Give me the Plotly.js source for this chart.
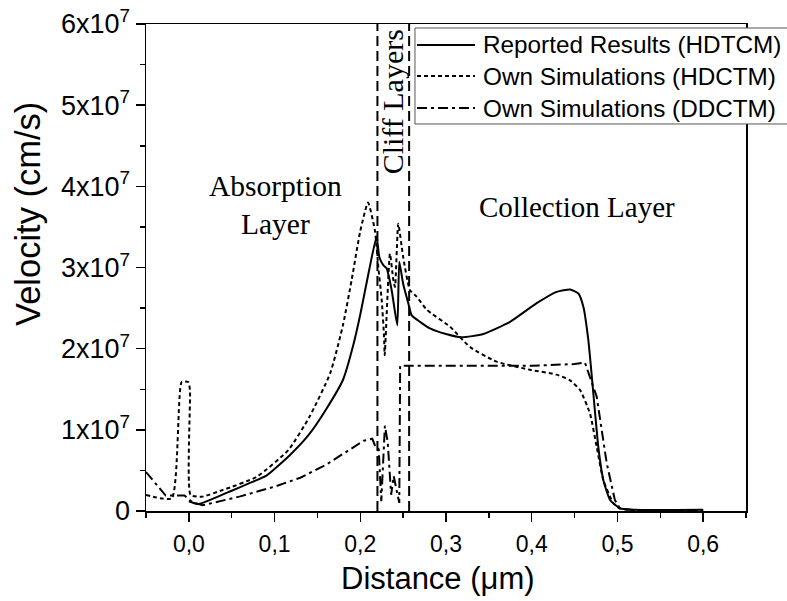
<!DOCTYPE html>
<html>
<head>
<meta charset="utf-8">
<script src="https://cdn.plot.ly/plotly-3.0.1.min.js"></script>
<style>html,body{margin:0;padding:0;background:#fff;}#chart{width:787px;height:601px;}</style>
</head>
<body>
<div id="chart"></div>
<script>
// Reported Results (HDTCM) - solid
var reportedX = [0.0, 0.011, 0.03, 0.05, 0.07, 0.091, 0.118, 0.14, 0.16, 0.18, 0.192, 0.2, 0.21, 0.219, 0.2222, 0.2268, 0.2307, 0.2366, 0.2432, 0.2455, 0.250, 0.256, 0.26, 0.2697, 0.2813, 0.30, 0.318, 0.3435, 0.3747, 0.4058, 0.4291, 0.4447, 0.4544, 0.4602, 0.466, 0.4719, 0.4777, 0.4836, 0.4914, 0.503, 0.52, 0.6];
var reportedY = [1.2e6, 0.85e6, 1.6e6, 2.5e6, 3.4e6, 4.4e6, 6.9e6, 9.4e6, 1.25e7, 1.62e7, 2.05e7, 2.42e7, 2.95e7, 3.38e7, 3.13e7, 3.03e7, 2.99e7, 2.72e7, 2.29e7, 3.07e7, 2.80e7, 2.56e7, 2.41e7, 2.33e7, 2.25e7, 2.18e7, 2.14e7, 2.18e7, 2.33e7, 2.56e7, 2.70e7, 2.73e7, 2.68e7, 2.52e7, 2.11e7, 1.45e7, 7.9e6, 3.8e6, 1.36e6, 3.3e5, 1.5e5, 1.5e5];

// Own Simulations (HDCTM) - dotted
var hdctmX = [-0.05, -0.02, -0.0084, -0.0007, 0.0013, 0.002, 0.015, 0.04, 0.079, 0.116, 0.1407, 0.165, 0.18, 0.19, 0.2, 0.209, 0.217, 0.221, 0.225, 0.2277, 0.2285, 0.2346, 0.2385, 0.2405, 0.2443, 0.250, 0.258, 0.2658, 0.2775, 0.3047, 0.328, 0.359, 0.398, 0.429, 0.4447, 0.4564, 0.468, 0.4758, 0.4836, 0.4953, 0.503, 0.52, 0.6];
var hdctmY = [1.97e6, 1.56e6, 1.59e7, 1.59e7, 1.49e7, 1.97e6, 1.76e6, 2.6e6, 4.2e6, 7.5e6, 1.16e7, 1.7e7, 2.3e7, 2.85e7, 3.45e7, 3.8e7, 3.46e7, 3.01e7, 2.6e7, 2.15e7, 1.92e7, 3.17e7, 2.85e7, 2.76e7, 3.54e7, 3.13e7, 2.72e7, 2.64e7, 2.48e7, 2.27e7, 2.02e7, 1.84e7, 1.74e7, 1.68e7, 1.61e7, 1.49e7, 1.20e7, 7.9e6, 3.8e6, 9.5e5, 3e5, 1e5, 1e5];

// Own Simulations (DDCTM) - dash-dot
var ddctmX = [-0.05, -0.027, -0.005, 0.004, 0.016, 0.06, 0.1, 0.13, 0.16, 0.188, 0.204, 0.214, 0.2178, 0.2215, 0.2245, 0.2287, 0.232, 0.236, 0.239, 0.2425, 0.2455, 0.2465, 0.30, 0.40, 0.45, 0.462, 0.4758, 0.4875, 0.497, 0.503, 0.52, 0.6];
var ddctmY = [4.8e6, 1.9e6, 1.9e6, 1.1e6, 0.7e6, 1.8e6, 3.0e6, 4.1e6, 5.7e6, 7.6e6, 8.66e6, 8.9e6, 7.9e6, 7.6e6, 1.2e6, 1.05e7, 8.5e6, 2.0e6, 4.3e6, 2.5e6, 1.0e6, 1.79e7, 1.79e7, 1.79e7, 1.81e7, 1.83e7, 1.41e7, 5.9e6, 1.36e6, 3e5, 1e5, 1e5];

var seriesNames = ['Reported Results (HDTCM)', 'Own Simulations (HDCTM)', 'Own Simulations (DDCTM)'];
var seriesDash = ['solid', '4px,3px', '10px,4px,3px,4px'];
var cliffBounds = [0.22, 0.257];

var yTickVals = [0, 1e7, 2e7, 3e7, 4e7, 5e7, 6e7];
var yTickText = ['0', '1x10<sup>7</sup>', '2x10<sup>7</sup>', '3x10<sup>7</sup>', '4x10<sup>7</sup>', '5x10<sup>7</sup>', '6x10<sup>7</sup>'];

var serif = 'Liberation Serif, Times New Roman, serif';
var sans = 'Liberation Sans, Arial, sans-serif';

var traces = [
  {x: reportedX, y: reportedY, name: seriesNames[0], mode: 'lines', line: {color: '#000', width: 2, dash: seriesDash[0], shape: 'spline', smoothing: 0.5}},
  {x: hdctmX, y: hdctmY, name: seriesNames[1], mode: 'lines', line: {color: '#000', width: 2, dash: seriesDash[1], shape: 'spline', smoothing: 0.5}},
  {x: ddctmX, y: ddctmY, name: seriesNames[2], mode: 'lines', line: {color: '#000', width: 2, dash: seriesDash[2]}}
];

// legend box geometry (paper units of the plot area)
var legLeft = 0.4483, legRight = 1.10, legTop = 0.9918, legBottom = 0.7947;
var legRowsY = [0.9569, 0.8932, 0.8275];
var legLineX0 = 0.4517, legLineX1 = 0.5483, legTextX = 0.5583;

var shapes = cliffBounds.map(function (b) {
  return {type: 'line', xref: 'x', yref: 'paper', x0: b, x1: b, y0: 0, y1: 1,
    line: {color: '#000', width: 2, dash: '10px,5px'}};
});
shapes.push({type: 'rect', xref: 'paper', yref: 'paper', x0: legLeft, x1: legRight, y0: legBottom, y1: legTop,
  fillcolor: '#fff', line: {color: '#555', width: 1}});
seriesNames.forEach(function (n, i) {
  shapes.push({type: 'line', xref: 'paper', yref: 'paper', x0: legLineX0, x1: legLineX1, y0: legRowsY[i], y1: legRowsY[i],
    line: {color: '#000', width: 2, dash: seriesDash[i]}});
});

var annotations = [
  {text: 'Distance (μm)', x: 0.4867, y: -0.1376, xref: 'paper', yref: 'paper', xanchor: 'center', yanchor: 'middle', showarrow: false,
    font: {family: sans, size: 31, color: '#000'}},
  {text: 'Velocity (cm/s)', x: -0.1967, y: 0.6099, xref: 'paper', yref: 'paper', xanchor: 'center', yanchor: 'middle', showarrow: false, textangle: -90,
    font: {family: sans, size: 34.5, color: '#000'}},
  {text: 'Absorption<br>Layer', x: 0.1005, y: 3.776e7, xref: 'x', yref: 'y', showarrow: false,
    font: {family: serif, size: 29.5, color: '#000'}},
  {text: 'Collection Layer', x: 0.4529, y: 3.745e7, xref: 'x', yref: 'y', showarrow: false,
    font: {family: serif, size: 29, color: '#000'}},
  {text: 'Cliff Layers', x: 0.2375, y: 5.04e7, xref: 'x', yref: 'y', showarrow: false, textangle: -90,
    font: {family: serif, size: 30, color: '#000'}}
];
seriesNames.forEach(function (n, i) {
  annotations.push({text: n, x: legTextX, y: legRowsY[i], xref: 'paper', yref: 'paper', xanchor: 'left', yanchor: 'middle',
    showarrow: false, font: {family: sans, size: 24.3, color: '#000'}});
});

var layout = {
  width: 787, height: 601,
  margin: {l: 146, r: 41, t: 24, b: 90, autoexpand: false},
  paper_bgcolor: '#fff', plot_bgcolor: '#fff',
  separators: ',.',
  showlegend: false,
  xaxis: {
    range: [-0.05, 0.65], tickmode: 'linear', tick0: 0, dtick: 0.1, tickformat: '.1f',
    showgrid: false, zeroline: false, showline: true, linecolor: '#000', linewidth: 1.5, mirror: true,
    ticks: 'outside', ticklen: 9, tickwidth: 1.5, tickcolor: '#000', ticklabelstandoff: 3,
    minor: {tickmode: 'linear', tick0: 0, dtick: 0.05, ticks: 'outside', ticklen: 5, tickwidth: 1.5, tickcolor: '#000'},
    tickfont: {family: sans, size: 23, color: '#000'}
  },
  yaxis: {
    range: [0, 6e7], tickmode: 'array', tickvals: yTickVals, ticktext: yTickText,
    showgrid: false, zeroline: false, showline: true, linecolor: '#000', linewidth: 1.5, mirror: true,
    ticks: 'outside', ticklen: 9, tickwidth: 1.5, tickcolor: '#000',
    minor: {tickmode: 'linear', tick0: 0, dtick: 5e6, ticks: 'outside', ticklen: 5, tickwidth: 1.5, tickcolor: '#000'},
    tickfont: {family: sans, size: 27, color: '#000'}
  },
  shapes: shapes,
  annotations: annotations
};

Plotly.newPlot('chart', traces, layout, {displayModeBar: false, staticPlot: true});
</script>
</body>
</html>
